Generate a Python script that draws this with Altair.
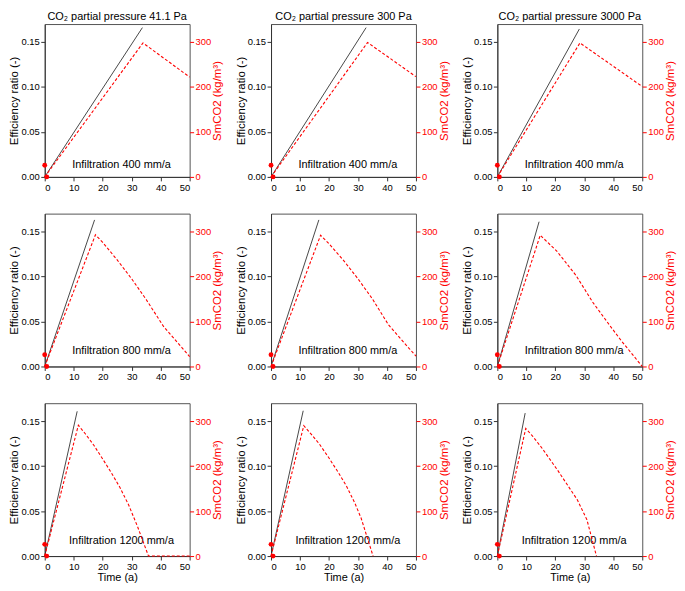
import altair as alt
import pandas as pd

FONT = "Liberation Sans"

pressures = ["41.1", "300", "3000"]
infiltrations = [400, 800, 1200]

# Efficiency ratio line: end point (time, value) per panel [row][col]
eff_end_t = [[33.7, 32.8, 28.3], [17.2, 16.5, 14.4], [11.2, 11.1, 9.6]]
eff_end_v = [[0.166, 0.166, 0.1645], [0.163, 0.163, 0.161], [0.161, 0.1616, 0.159]]

# SmCO2 curves (time, value) per panel
sm_t_400_41 = [0, 33.9, 50]
sm_v_400_41 = [0, 298, 222]
sm_t_400_300 = [0, 33.3, 50]
sm_v_400_300 = [0, 299, 223]
sm_t_400_3000 = [0, 28.5, 50]
sm_v_400_3000 = [0, 298, 201]

sm_t_800_41 = [0, 17.5, 20, 25, 30, 35, 41, 46, 50]
sm_v_800_41 = [0, 293, 276, 237, 195, 149, 89, 52, 22]
sm_t_800_300 = [0, 17.1, 20, 25, 30, 35, 40.5, 45.5, 50]
sm_v_800_300 = [0, 292, 273, 236, 195, 150, 93, 56, 23]
sm_t_800_3000 = [0, 14.8, 20.6, 27.2, 32.8, 39.4, 42.8, 50]
sm_v_800_3000 = [0, 292, 256, 202, 144, 86, 57, 0]

sm_t_1200_41 = [0, 11.6, 14, 17, 20, 23, 26, 29, 32, 35.8, 50]
sm_v_1200_41 = [0, 291, 272, 246, 216, 185, 152, 113, 66, 0, 0]
sm_t_1200_300 = [0, 11.3, 14, 16.7, 20, 23.3, 26, 28.9, 31.1, 35.2]
sm_v_1200_300 = [0, 290, 270, 249, 218, 185, 156, 118, 84, 0]
sm_t_1200_3000 = [0, 9.8, 12, 15.3, 20.9, 27.6, 30.9, 34.2]
sm_v_1200_3000 = [0, 284, 268, 241, 190, 125, 81, 0]

SM_T = [[sm_t_400_41, sm_t_400_300, sm_t_400_3000],
        [sm_t_800_41, sm_t_800_300, sm_t_800_3000],
        [sm_t_1200_41, sm_t_1200_300, sm_t_1200_3000]]
SM_V = [[sm_v_400_41, sm_v_400_300, sm_v_400_3000],
        [sm_v_800_41, sm_v_800_300, sm_v_800_3000],
        [sm_v_1200_41, sm_v_1200_300, sm_v_1200_3000]]

# red markers
dot_t = [0, 0.7]
dot_v = [26, 0]

x_ticks = [0, 10, 20, 30, 40, 50]
eff_ticks = [0, 0.05, 0.10, 0.15]
sm_ticks = [0, 100, 200, 300]

W, H = 146, 154
SX, SY = 10, 20
text_dy = [12, 16, 15]


def panel(r, c):
    eff = pd.DataFrame({"t": [0, eff_end_t[r][c]], "v": [0, eff_end_v[r][c]]})
    sm = pd.DataFrame({"t": SM_T[r][c], "v": SM_V[r][c]})
    dots = pd.DataFrame({"t": dot_t, "v": dot_v})
    lab = pd.DataFrame({"label": [f"Infiltration {infiltrations[r]} mm/a"]})

    if r == 2:
        xaxis = alt.Axis(values=x_ticks, title="Time (a)", titleFontSize=11)
    else:
        xaxis = alt.Axis(values=x_ticks, title=None)
    x = alt.X("t:Q", scale=alt.Scale(domain=[0, 50], nice=False), axis=xaxis)

    y_left = alt.Y("v:Q", scale=alt.Scale(domain=[0, 0.17], nice=False),
                   axis=alt.Axis(values=eff_ticks, format=".2f", title="Efficiency ratio (-)"))
    y_right = alt.Y("v:Q", scale=alt.Scale(domain=[0, 340], nice=False),
                    axis=alt.Axis(orient="right", values=sm_ticks, format="d",
                                  title="SmCO2 (kg/m³)", titleColor="#ff0000",
                                  labelColor="#ff0000", tickColor="#ff0000",
                                  domain=False, titleAngle=270, titleBaseline="top"))

    black = alt.Chart(eff).mark_line(color="#333333", strokeWidth=0.9).encode(x=x, y=y_left)
    text = alt.Chart(lab).mark_text(font=FONT, fontSize=11, color="black").encode(
        text="label:N", x=alt.value(W * 0.53), y=alt.value(H - text_dy[r]))
    red_line = alt.Chart(sm).mark_line(color="#ff0000", strokeDash=[3, 2], strokeWidth=1.1).encode(x=x, y=y_right)
    red_pts = alt.Chart(dots).mark_circle(color="#ff0000", size=24, opacity=1).encode(x=x, y=y_right)

    layer = alt.layer(alt.layer(black, text), alt.layer(red_line, red_pts)).resolve_scale(y="independent")
    if r == 0:
        layer = layer.properties(width=W, height=H,
                                 title=alt.Title(f"CO₂ partial pressure {pressures[c]} Pa"))
    else:
        layer = layer.properties(width=W, height=H)
    return layer


rows = [alt.hconcat(*[panel(r, c) for c in range(3)], spacing=SX) for r in range(3)]
chart = alt.vconcat(*rows, spacing=SY).properties(padding=0)
chart = chart.configure_axis(
    labelFont=FONT, titleFont=FONT, labelFontSize=9.5, titleFontSize=11.5,
    titleFontWeight="normal", tickSize=4, labelPadding=1.5, titlePadding=1,
    grid=False, domainColor="#333333", tickColor="#333333",
    labelColor="black", titleColor="black",
).configure_view(stroke="#555555", strokeWidth=1).configure_title(
    font=FONT, fontSize=11, fontWeight="normal", offset=2, anchor="middle", color="black"
)

chart.save("out.html", embed_options={"renderer": "svg", "actions": False})
